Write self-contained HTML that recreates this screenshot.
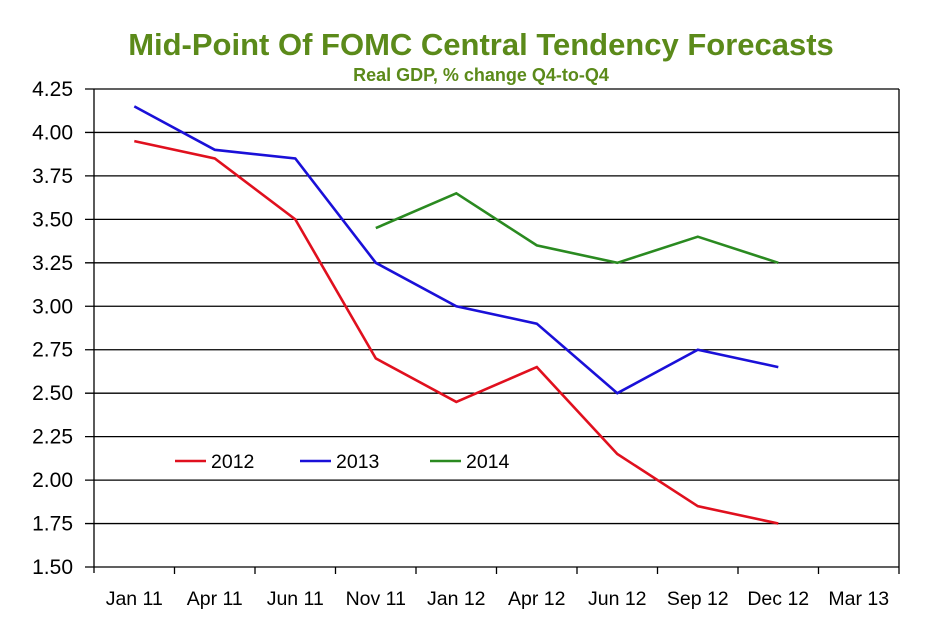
<!DOCTYPE html>
<html><head><meta charset="utf-8"><style>
body{margin:0;background:#fff;width:927px;height:624px;overflow:hidden}
svg{display:block;font-family:"Liberation Sans",Arial,sans-serif}
</style></head><body>
<svg id="chart" width="927" height="624">
<text x="481" y="55" text-anchor="middle" font-size="31" font-weight="bold" fill="#5b8a1a">Mid-Point Of FOMC Central Tendency Forecasts</text>
<text x="481" y="81" text-anchor="middle" font-size="18" font-weight="bold" fill="#5b8a1a">Real GDP, % change Q4-to-Q4</text>
<g id="grid"></g><g id="series"></g><g id="legend"></g>
</svg>
<script>
const categories=["Jan 11","Apr 11","Jun 11","Nov 11","Jan 12","Apr 12","Jun 12","Sep 12","Dec 12","Mar 13"];
const yTicks=[1.5,1.75,2.0,2.25,2.5,2.75,3.0,3.25,3.5,3.75,4.0,4.25];
const s2012=[3.95,3.85,3.5,2.7,2.45,2.65,2.15,1.85,1.75,null];
const s2013=[4.15,3.9,3.85,3.25,3.0,2.9,2.5,2.75,2.65,null];
const s2014=[null,null,null,3.45,3.65,3.35,3.25,3.4,3.25,null];
const seriesNames=["2012","2013","2014"];
const L=94,R=899,T=89,B=567,ymin=1.5,ymax=4.25;
const NS="http://www.w3.org/2000/svg";
const bw=(R-L)/categories.length;
const x=i=>L+bw*(i+0.5);
const y=v=>B-(v-ymin)/(ymax-ymin)*(B-T);
function mk(tag,attrs,parent,text){const e=document.createElementNS(NS,tag);for(const k in attrs)e.setAttribute(k,attrs[k]);if(text!=null)e.textContent=text;parent.appendChild(e);return e;}
const g=document.getElementById('grid');
yTicks.forEach(v=>{
 const ln=mk('line',{x1:L-9,x2:R,y1:y(v),y2:y(v),stroke:'#000','stroke-width':1.3},g);
 
 
 const t=mk('text',{x:73,y:y(v)+7,'text-anchor':'end','font-size':21},g,v.toFixed(2));
 
 
});
const ax=mk('line',{x1:L,x2:L,y1:T,y2:B+6,stroke:'#000','stroke-width':1.3},g);


const rx=mk('line',{x1:R,x2:R,y1:T,y2:B,stroke:'#000','stroke-width':1.3},g);


categories.forEach((c,i)=>{
 const tk=mk('line',{x1:L+bw*(i+1),x2:L+bw*(i+1),y1:B,y2:B+7,stroke:'#000','stroke-width':1.3},g);
 
 
 const t=mk('text',{x:x(i),y:605,'text-anchor':'middle','font-size':19.5},g,c);
 
 
});
const sg=document.getElementById('series');
const colors=["#e0101e","#1a10d8","#2a8a20"];
[s2012,s2013,s2014].forEach((s,k)=>{
 let d="";let pen=false;
 s.forEach((v,i)=>{if(v==null){pen=false;return;}d+=(pen?"L":"M")+x(i).toFixed(1)+","+y(v).toFixed(1);pen=true;});
 const p=mk('path',{d:d,fill:'none',stroke:colors[k],'stroke-width':2.6},sg);
 
 
});
const lg=document.getElementById('legend');
const lx=[175,300,430];
seriesNames.forEach((n,k)=>{
 const l=mk('line',{x1:lx[k],x2:lx[k]+31,y1:461,y2:461,stroke:colors[k],'stroke-width':2.6},lg);
 
 
 const t=mk('text',{x:lx[k]+36,y:468,'font-size':19.5},lg,n);
 
 
});
</script>
</body></html>
